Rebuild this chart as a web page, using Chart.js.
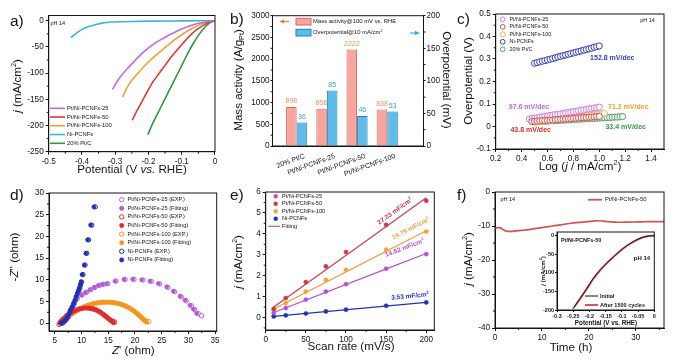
<!DOCTYPE html>
<html><head><meta charset="utf-8"><title>Pt/Ni-PCNFs HER</title>
<script src="https://cdn.jsdelivr.net/npm/chart.js@4.4.1/dist/chart.umd.min.js"></script>
<style>
html,body{margin:0;padding:0;background:#fff;}
body{width:683px;height:359px;position:relative;overflow:hidden;}
canvas{position:absolute;left:0;top:0;}
</style></head><body>
<canvas id="ca" width="683" height="359"></canvas>
<canvas id="cb" width="683" height="359"></canvas>
<canvas id="cc" width="683" height="359"></canvas>
<canvas id="cd" width="683" height="359"></canvas>
<canvas id="ce" width="683" height="359"></canvas>
<canvas id="cf" width="683" height="359"></canvas>
<canvas id="cg" width="683" height="359"></canvas>
<script>
// ---------------- DATA ----------------
// (a) LSV curves
const aNames = ['Pt/Ni-PCNFs-25','Pt/Ni-PCNFs-50','Pt/Ni-PCNFs-100','Ni-PCNFs','20% Pt/C'];
const aPot25 = [-0.308,-0.295,-0.281,-0.26,-0.24,-0.215,-0.19,-0.16,-0.13,-0.1,-0.07,-0.045,-0.025,-0.01,0];
const aJ25 = [-131,-117,-104,-89,-75.6,-60,-47,-35,-24.8,-15.8,-8.8,-4.3,-1.8,-0.5,0];
const aPot50 = [-0.249,-0.235,-0.22,-0.205,-0.19,-0.17,-0.15,-0.13,-0.11,-0.09,-0.07,-0.05,-0.035,-0.02,-0.008,0];
const aJ50 = [-190,-172,-155,-137,-120,-102,-85,-68,-53,-38.5,-25,-14.5,-8.8,-3.5,-0.8,0];
const aPot100 = [-0.278,-0.265,-0.25,-0.23,-0.21,-0.185,-0.16,-0.135,-0.11,-0.085,-0.06,-0.04,-0.02,-0.008,0];
const aJ100 = [-145.6,-128,-113.7,-99,-85,-70,-56.5,-43,-31,-20.5,-12,-6,-2,-0.4,0];
const aPotNi = [-0.433,-0.415,-0.40,-0.38,-0.36,-0.34,-0.31,-0.28,-0.2,-0.1,0];
const aJNi = [-32,-23,-16.5,-11,-7.6,-4.5,-2.5,-1.8,-0.8,-0.3,0];
const aPotPtC = [-0.202,-0.19,-0.17,-0.155,-0.14,-0.125,-0.11,-0.095,-0.08,-0.065,-0.05,-0.037,-0.025,-0.012,0];
const aJPtC = [-217.6,-200,-174,-155,-136,-117,-98,-79,-60,-43,-28,-17,-8.8,-2.5,0];
const aXTicks = [-0.5,-0.4,-0.3,-0.2,-0.1,0];
const aXTickLabels = ['-0.5','-0.4','-0.3','-0.2','-0.1','0'];
const aYTicks = [-250,-200,-150,-100,-50,0];
const aYTickLabels = ['-250','-200','-150','-100','-50','0'];
const aMinorX = [-0.45,-0.35,-0.25,-0.15,-0.05];
const aMinorY = [-225,-175,-125,-75,-25];

// (b) bars
const bCats = ['20% Pt/C','Pt/Ni-PCNFs-25','Pt/Ni-PCNFs-50','Pt/Ni-PCNFs-100'];
const bPos = [1,2,3,4];
const bMass = [898,856,2222,838];
const bEta = [36,85,46,53];
const bSeries = ['Mass activity@100 mV vs. RHE','Overpotential@10 mA/cm'];
const bYTicks = [0,500,1000,1500,2000,2500,3000];
const bYTickLabels = ['0','500','1000','1500','2000','2500','3000'];
const bY2Ticks = [0,50,100,150,200];
const bY2TickLabels = ['0','50','100','150','200'];
const bMinorY = [250,750,1250,1750,2250,2750];
const bMinorY2 = [25,75,125,175];

// (c) Tafel
const cNames = ['Pt/Ni-PCNFs-25','Pt/Ni-PCNFs-50','Pt/Ni-PCNFs-100','Ni-PCNFs','20% Pt/C'];
const cSlopes = ['97.6 mV/dec','43.8 mV/dec','71.2 mV/dec','152.8 mV/dec','33.4 mV/dec'];
const cX25 = [0.46,0.48,0.50,0.52,0.54,0.56,0.58,0.60,0.62,0.64,0.66,0.68,0.70,0.72,0.74,0.76,0.78,0.80,0.82,0.84,0.86,0.88,0.90,0.92,0.94,0.96,0.98,1.00];
const cY25 = [0.033,0.035,0.037,0.039,0.041,0.043,0.045,0.047,0.049,0.051,0.053,0.054,0.056,0.058,0.060,0.062,0.064,0.066,0.068,0.070,0.072,0.074,0.076,0.078,0.080,0.082,0.084,0.086];
const cX50 = [0.48,0.50,0.52,0.54,0.56,0.58,0.60,0.62,0.64,0.66,0.68,0.70,0.72,0.74,0.76,0.78,0.80,0.82,0.84,0.86,0.88,0.90,0.92,0.94,0.96,0.98,1.00];
const cY50 = [0.022,0.023,0.024,0.025,0.026,0.026,0.027,0.028,0.029,0.030,0.031,0.032,0.033,0.033,0.034,0.035,0.036,0.037,0.038,0.039,0.040,0.040,0.041,0.042,0.043,0.044,0.045];
const cX100 = [0.50,0.52,0.54,0.56,0.58,0.60,0.62,0.64,0.66,0.68,0.70,0.72,0.74,0.76,0.78,0.80,0.82,0.84,0.86,0.88,0.90,0.92,0.94,0.96,0.98,1.00,1.02,1.04];
const cY100 = [0.019,0.020,0.022,0.023,0.025,0.026,0.028,0.029,0.030,0.032,0.033,0.035,0.036,0.038,0.039,0.040,0.042,0.043,0.045,0.046,0.048,0.049,0.050,0.052,0.053,0.055,0.056,0.058];
const cXNi = [0.50,0.52,0.54,0.56,0.58,0.60,0.62,0.64,0.66,0.68,0.70,0.72,0.74,0.76,0.78,0.80,0.82,0.84,0.86,0.88,0.90,0.92,0.94,0.96,0.98,1.00];
const cYNi = [0.281,0.284,0.287,0.290,0.293,0.296,0.299,0.302,0.305,0.309,0.312,0.315,0.318,0.321,0.324,0.327,0.330,0.333,0.336,0.339,0.342,0.345,0.348,0.352,0.355,0.358];
const cXPtC = [0.56,0.58,0.60,0.62,0.64,0.66,0.68,0.70,0.72,0.74,0.76,0.78,0.80,0.82,0.84,0.86,0.88,0.90,0.92,0.94,0.96,0.98,1.00,1.02,1.04,1.06,1.08,1.10,1.12,1.14,1.16,1.18];
const cYPtC = [0.023,0.024,0.024,0.025,0.026,0.026,0.027,0.028,0.028,0.029,0.030,0.030,0.031,0.032,0.032,0.033,0.034,0.034,0.035,0.036,0.036,0.037,0.038,0.038,0.039,0.040,0.040,0.041,0.042,0.042,0.043,0.044];
const cXTicks = [0.2,0.4,0.6,0.8,1.0,1.2,1.4];
const cXTickLabels = ['0.2','0.4','0.6','0.8','1.0','1.2','1.4'];
const cYTicks = [-0.1,0,0.1,0.2,0.3,0.4,0.5];
const cYTickLabels = ['-0.1','0','0.1','0.2','0.3','0.4','0.5'];
const cMinorX = [0.3,0.5,0.7,0.9,1.1,1.3];
const cMinorY = [-0.05,0.05,0.15,0.25,0.35,0.45];

// (d) Nyquist
const dNames = ['Pt/Ni-PCNFs-25 (EXP.)','Pt/Ni-PCNFs-25 (Fitting)','Pt/Ni-PCNFs-50 (EXP.)','Pt/Ni-PCNFs-50 (Fitting)','Pt/Ni-PCNFs-100 (EXP.)','Pt/Ni-PCNFs-100 (Fitting)','Ni-PCNFs (EXP.)','Ni-PCNFs (Fitting)'];
const dExpX25 = [6.3,6.7,7.3,7.9,8.5,9.2,10.1,10.9,11.7,12.5,13.3,14.05,14.9,16.45,18.15,19.8,21.5,23.05,24.6,26.15,27.4,28.65,29.6,30.55,31.2,31.85,32.45];
const dExpY25 = [0,0.8,1.85,2.95,4.35,5.7,6.5,7.1,7.7,8.25,8.7,8.95,9.1,9.7,10.05,10.1,9.95,9.6,9.05,8.25,7.25,6.1,5.15,4.0,3.1,2.2,1.7];
const dFitX25 = [6.2,6.6,7.2,7.8,8.4,9.06,10.0,10.75,11.56,12.37,13.12,13.87,14.69,16.25,17.94,19.56,21.25,22.81,24.37,25.94,27.19,28.44,29.37,30.31,30.94,31.56];
const dFitY25 = [0,0.8,1.8,2.9,4.3,5.69,6.46,7.08,7.69,8.23,8.69,8.92,9.08,9.69,10.08,10.15,10.0,9.69,9.15,8.38,7.38,6.23,5.3,4.15,3.23,2.23];
const dExpX50 = [5.8,6.0,6.3,6.7,7.1,7.6,8.1,8.6,9.1,9.6,10.1,10.6,11.1,11.6,12.1,12.6,13.1,13.6,14.1,14.5,14.9,15.3,15.7,15.95,16.2];
const dExpY50 = [-0.3,0.2,0.65,1.1,1.55,2.0,2.4,2.75,3.05,3.28,3.43,3.5,3.5,3.44,3.3,3.1,2.8,2.42,1.98,1.58,1.18,0.78,0.48,0.28,0.25];
const dFitX50 = [5.9,6.1,6.4,6.8,7.2,7.7,8.2,8.7,9.2,9.7,10.2,10.7,11.2,11.7,12.2,12.7,13.2,13.7,14.2,14.6,15.0,15.4,15.7,15.9,16.0];
const dFitY50 = [0,0.3,0.7,1.15,1.6,2.05,2.45,2.8,3.1,3.3,3.45,3.52,3.52,3.45,3.3,3.08,2.78,2.4,1.95,1.55,1.15,0.75,0.45,0.25,0.1];
const dExpX100 = [6.4,6.7,7.1,7.6,8.1,8.7,9.3,9.9,10.5,11.1,11.7,12.3,12.9,13.5,14.1,14.7,15.3,15.9,16.5,17.1,17.7,18.3,18.9,19.5,20.0,20.5,21.0,21.4,21.8,22.2,22.6];
const dExpY100 = [0,0.5,1.0,1.55,2.05,2.55,3.0,3.4,3.75,4.05,4.3,4.5,4.65,4.75,4.82,4.85,4.83,4.76,4.64,4.47,4.23,3.93,3.56,3.1,2.65,2.15,1.6,1.12,0.7,0.4,0.35];
const dFitX100 = [6.3,6.6,7.0,7.5,8.0,8.6,9.2,9.8,10.4,11.0,11.6,12.2,12.8,13.4,14.0,14.6,15.2,15.8,16.4,17.0,17.6,18.2,18.8,19.4,19.9,20.4,20.9,21.3,21.7,22.0,22.2];
const dFitY100 = [0,0.5,1.0,1.55,2.05,2.55,3.0,3.4,3.75,4.05,4.3,4.5,4.65,4.75,4.82,4.85,4.83,4.76,4.64,4.47,4.23,3.93,3.56,3.1,2.65,2.15,1.6,1.12,0.7,0.4,0.2];
const dExpXNi = [6.3,6.5,6.75,7.0,7.25,7.5,7.7,7.9,8.1,8.35,8.6,8.85,9.05,9.3,9.5,9.66,9.82,10.0,10.25,10.65,10.95,11.3,11.9,12.55];
const dExpYNi = [0,0.15,0.4,0.7,1.05,1.45,2.0,2.6,3.2,3.8,4.55,5.3,6.1,6.85,7.5,8.1,8.8,9.5,11.2,13.4,16.1,19.2,22.6,26.8];
const dFitXNi = [6.2,6.4,6.65,6.9,7.15,7.4,7.6,7.8,8.0,8.25,8.5,8.75,8.95,9.19,9.4,9.56,9.72,9.88,10.1,10.5,10.8,11.13,11.69,12.31];
const dFitYNi = [0,0.15,0.4,0.7,1.05,1.45,2.0,2.6,3.2,3.8,4.55,5.3,6.1,6.85,7.5,8.1,8.8,9.5,11.2,13.4,16.1,19.2,22.6,26.8];
const dXTicks = [5,10,15,20,25,30,35];
const dXTickLabels = ['5','10','15','20','25','30','35'];
const dYTicks = [0,5,10,15,20,25,30];
const dYTickLabels = ['0','5','10','15','20','25','30'];
const dMinorX = [7.5,12.5,17.5,22.5,27.5,32.5];
const dMinorY = [2.5,7.5,12.5,17.5,22.5,27.5];

// (e) double-layer capacitance
const eNames = ['Pt/Ni-PCNFs-25','Pt/Ni-PCNFs-50','Pt/Ni-PCNFs-100','Ni-PCNFs','Fitting'];
const eCdl = ['14.82 mF/cm','27.23 mF/cm','19.79 mF/cm','3.53 mF/cm'];
const eRate = [10,25,50,75,100,150,200];
const e25 = [0.21,0.45,0.85,1.24,1.59,2.33,3.03];
const e50 = [0.41,0.93,1.69,2.44,3.13,4.43,5.58];
const e100 = [0.35,0.69,1.24,1.80,2.28,3.24,4.11];
const eNi = [0.05,0.10,0.19,0.29,0.37,0.56,0.72];
const eFitRate = [10,200];
const eFit25 = [0.24,3.06];
const eFit50 = [0.5,5.72];
const eFit100 = [0.4,4.15];
const eFitNi = [0.05,0.72];
const eXTicks = [0,50,100,150,200];
const eXTickLabels = ['0','50','100','150','200'];
const eYTicks = [0,1,2,3,4,5,6];
const eYTickLabels = ['0','1','2','3','4','5','6'];
const eMinorX = [25,75,125,175];
const eMinorY = [-0.5,0.5,1.5,2.5,3.5,4.5,5.5];

// (f) stability
const fNames = ['Pt/Ni-PCNFs-50'];
const fTime = [0,0.8,1.4,1.9,2.4,3.2,4.5,5.6,7.5,9.2,11,12.7,14.5,16.2,18,19.8,21,21.9,23,24,25.5,26.8,28.5,30.3,32,34,36];
const fJ = [-10.6,-10.5,-10.7,-11.2,-11.5,-11.6,-11.45,-11.3,-11.0,-10.6,-10.25,-9.9,-9.55,-9.2,-8.95,-8.7,-8.55,-8.45,-8.55,-8.7,-8.85,-8.9,-8.85,-8.8,-8.75,-8.7,-8.7];
const fXTicks = [0,10,20,30];
const fXTickLabels = ['0','10','20','30'];
const fYTicks = [-40,-30,-20,-10,0];
const fYTickLabels = ['-40','-30','-20','-10','0'];
const fMinorX = [5,15,25,35];
const fMinorY = [-35,-25,-15,-5];
// inset
const fInNames = ['Initial','After 1500 cycles'];
const fInPotInit = [-0.247,-0.23,-0.208,-0.19,-0.167,-0.145,-0.126,-0.105,-0.085,-0.065,-0.044,-0.025,-0.01,0];
const fInJInit = [-192,-170,-141.6,-117,-92,-72,-56.5,-40,-27,-16,-7,-2,-0.3,0];
const fInPotAfter = [-0.251,-0.23,-0.208,-0.19,-0.167,-0.145,-0.126,-0.105,-0.085,-0.065,-0.044,-0.025,-0.01,0];
const fInJAfter = [-197,-171.5,-143,-118.5,-93,-73,-57.5,-41,-27.8,-16.6,-7.5,-2.3,-0.4,0];
const fInXTicks = [-0.3,-0.25,-0.2,-0.15,-0.1,-0.05,0];
const fInXTickLabels = ['-0.3','-0.25','-0.2','-0.15','-0.1','-0.05','0'];
const fInYTicks = [-200,-150,-100,-50,0];
const fInYTickLabels = ['-200','-150','-100','-50','0'];

// ---------------- LAYOUT / STYLE ----------------
const W = 683, H = 359;
function hasFont(name) {
  const c = document.createElement('canvas').getContext('2d');
  const s = 'Pt/Ni-PCNFs-25 mWwil 0123';
  c.font = '20px monospace'; const w0 = c.measureText(s).width;
  c.font = "20px '" + name + "', monospace"; return Math.abs(c.measureText(s).width - w0) > 0.5;
}
const NARROW = hasFont('Liberation Sans Narrow');
const REG = "'Liberation Sans', Arial, Helvetica, sans-serif";
const FONT = NARROW ? "'Liberation Sans Narrow', " + REG : REG;
const Z = NARROW ? 1.17 : 1;
const INK = '#141414';
const PA = {l: 48.7, t: 15.5, r: 215, b: 151.7};
const PB = {l: 272.5, t: 15.7, r: 423.5, b: 146};
const PC = {l: 495.7, t: 14, r: 664, b: 149};
const PD = {l: 49, t: 193, r: 216.7, b: 331};
const PE = {l: 265.7, t: 192, r: 434.3, b: 330};
const PF = {l: 495, t: 192, r: 664, b: 328};
const PI = {l: 557, t: 232, r: 654.3, b: 310};

Chart.defaults.font.family = FONT;
Chart.defaults.color = INK;
Chart.defaults.animation = false;
Chart.defaults.responsive = false;
Chart.defaults.maintainAspectRatio = false;
Chart.defaults.events = [];
Chart.defaults.plugins.legend.display = false;
Chart.defaults.plugins.tooltip.enabled = false;

function pts(xs, ys) { return xs.map((x, i) => ({x: x, y: ys[i]})); }
function pad(p, lw, rw, bh) { return {left: p.l - lw, top: p.t, right: W - p.r - rw, bottom: H - p.b - bh}; }
function axis(pos, min, max, vals, labels, size, o) {
  o = o || {};
  const horiz = pos === 'bottom';
  return {
    type: 'linear', position: pos, min: min, max: max, offset: false,
    afterBuildTicks: s => { s.ticks = vals.map(v => ({value: v})); },
    afterFit: s => { if (horiz) s.height = size; else s.width = size; },
    grid: {display: !o.noTicks, drawOnChartArea: false, drawTicks: true, tickLength: o.tl || 3, color: INK, lineWidth: 1, offset: false},
    border: {display: true, color: INK, width: 1},
    ticks: Object.assign({autoSkip: false, maxRotation: 0, minRotation: 0, padding: o.pad == null ? 2 : o.pad, color: INK,
      font: {size: (o.fs || 8.2) * Z, weight: o.bold ? 'bold' : 'normal'}, callback: (v, i) => labels[i]}, o.ticks || {})
  };
}
function rich(ctx, x, y, segs, size, o) {
  o = o || {};
  if (!o.noZ) size *= Z;
  const fam = o.fam || FONT;
  ctx.save();
  ctx.translate(x, y);
  if (o.rot) ctx.rotate(o.rot);
  const fnt = st => {
    const small = st.indexOf('^') >= 0 || st.indexOf('_') >= 0;
    return (st.indexOf('I') >= 0 ? 'italic ' : '') + ((o.bold || st.indexOf('B') >= 0) ? 'bold ' : '') + (small ? size * 0.62 : size) + 'px ' + fam;
  };
  let total = 0; const ws = [];
  segs.forEach(sg => { ctx.font = fnt(sg[1] || ''); const w = ctx.measureText(sg[0]).width; ws.push(w); total += w; });
  let cx = o.align === 'left' ? 0 : o.align === 'right' ? -total : -total / 2;
  ctx.textAlign = 'left'; ctx.textBaseline = 'middle'; ctx.fillStyle = o.color || INK;
  segs.forEach((sg, k) => {
    const st = sg[1] || '';
    ctx.font = fnt(st);
    const dy = st.indexOf('^') >= 0 ? -size * 0.33 : st.indexOf('_') >= 0 ? size * 0.28 : 0;
    ctx.fillText(sg[0], cx, dy); cx += ws[k];
  });
  ctx.restore();
}
function tx(ctx, s, x, y, size, color, align, bold) { rich(ctx, x, y, [[s]], size, {color: color, align: align, bold: bold}); }
function letter(ctx, s, x, y) { rich(ctx, x, y, [[s]], 15.5, {align: 'left', noZ: true, fam: REG}); }
function hline(ctx, x1, x2, y, c, w) { ctx.save(); ctx.strokeStyle = c; ctx.lineWidth = w; ctx.beginPath(); ctx.moveTo(x1, y); ctx.lineTo(x2, y); ctx.stroke(); ctx.restore(); }
function dot(ctx, x, y, r, stroke, fill, lw) { ctx.save(); ctx.beginPath(); ctx.arc(x, y, r, 0, Math.PI * 2); ctx.fillStyle = fill; ctx.fill(); ctx.strokeStyle = stroke; ctx.lineWidth = lw; ctx.stroke(); ctx.restore(); }
function arrow(ctx, x1, x2, y, c) {
  ctx.save(); ctx.strokeStyle = c; ctx.fillStyle = c; ctx.lineWidth = 1.2;
  ctx.beginPath(); ctx.moveTo(x1, y); ctx.lineTo(x2, y); ctx.stroke();
  const d = Math.sign(x2 - x1);
  ctx.beginPath(); ctx.moveTo(x2 + d, y); ctx.lineTo(x2 - d * 3.5, y - 2.2); ctx.lineTo(x2 - d * 3.5, y + 2.2); ctx.closePath(); ctx.fill();
  ctx.restore();
}
function drawFrame(ch, fr) {
  const ctx = ch.ctx, a = ch.chartArea, s = ch.scales;
  ctx.save(); ctx.strokeStyle = INK; ctx.lineWidth = 1;
  ctx.strokeRect(a.left, a.top, a.right - a.left, a.bottom - a.top);
  const L = fr.len || 2;
  ctx.beginPath();
  (fr.x || []).forEach(v => { const p = s.x.getPixelForValue(v); ctx.moveTo(p, a.bottom); ctx.lineTo(p, a.bottom + L); });
  (fr.y || []).forEach(v => { const p = s.y.getPixelForValue(v); ctx.moveTo(a.left, p); ctx.lineTo(a.left - L, p); });
  (fr.y2 || []).forEach(v => { const p = s.y2.getPixelForValue(v); ctx.moveTo(a.right, p); ctx.lineTo(a.right + L, p); });
  ctx.stroke(); ctx.restore();
}
function deco(id, fr, draw, bg) {
  return {
    id: id,
    beforeDraw(ch) { if (bg) { const a = ch.chartArea; ch.ctx.save(); ch.ctx.fillStyle = '#fff'; ch.ctx.fillRect(a.left, a.top, a.right - a.left, a.bottom - a.top); ch.ctx.restore(); } },
    afterDatasetsDraw(ch) { drawFrame(ch, fr); },
    afterDraw(ch) { const c = ch.ctx; c.save(); draw(c, ch); c.restore(); }
  };
}
function lineDs(xs, ys, c, w, order) { return {data: pts(xs, ys), showLine: true, pointRadius: 0, borderColor: c, borderWidth: w || 1.6, cubicInterpolationMode: 'monotone', fill: false, order: order || 0}; }
function openDs(xs, ys, c, r, order) { return {data: pts(xs, ys), showLine: false, pointRadius: r, pointBackgroundColor: '#fff', pointBorderColor: c, pointBorderWidth: 1, order: order}; }
function fillDs(xs, ys, c, r, order) { return {data: pts(xs, ys), showLine: false, pointRadius: r, pointBackgroundColor: c, pointBorderColor: c, pointBorderWidth: 0.5, order: order}; }
const J_TITLE = [['j', 'I'], [' (mA/cm'], ['2', '^'], [')']];
const TS = 11.6; // axis title size (regular-font equivalent)

// ---------------- (a) ----------------
const colA = ['#c56ad9', '#e0383a', '#f0a23a', '#3db4dc', '#2f9a3f'];
new Chart(document.getElementById('ca'), {
  type: 'scatter',
  data: {datasets: [
    lineDs(aPot25, aJ25, colA[0], 1.6, 0),
    lineDs(aPot50, aJ50, colA[1], 1.6, 1),
    lineDs(aPot100, aJ100, colA[2], 1.6, 2),
    lineDs(aPotNi, aJNi, colA[3], 1.6, 3),
    lineDs(aPotPtC, aJPtC, colA[4], 1.6, 4)
  ]},
  options: {
    layout: {padding: pad(PA, 30, 0, 20)},
    scales: {
      x: axis('bottom', -0.5, 0, aXTicks, aXTickLabels, 20),
      y: axis('left', -250, 10, aYTicks, aYTickLabels, 30)
    }
  },
  plugins: [deco('da', {x: aMinorX, y: aMinorY}, ctx => {
    letter(ctx, 'a)', 10, 21.5);
    rich(ctx, 17.5, 86, J_TITLE, TS, {rot: -Math.PI / 2});
    rich(ctx, 132, 170, [['Potential (V '], ['vs.', 'I'], [' RHE)']], TS);
    tx(ctx, 'pH 14', 50.5, 23.5, 5.5, INK, 'left');
    const ly = [108.3, 117.05, 125.8, 134.55, 143.3];
    aNames.forEach((n, i) => { hline(ctx, 50, 65, ly[i], colA[i], 1.6); tx(ctx, n, 67, ly[i], 5.8, INK, 'left'); });
  })]
});

// ---------------- (b) ----------------
const pinkF = '#f6a69d', pinkB = '#e0665c', blueF = '#5cbdea', blueB = '#2080c6';
new Chart(document.getElementById('cb'), {
  type: 'bar',
  data: {datasets: [
    {label: bSeries[0], data: pts(bPos, bMass), yAxisID: 'y', backgroundColor: pinkF, borderColor: pinkB, borderWidth: 1, categoryPercentage: 0.7, barPercentage: 1},
    {label: bSeries[1], data: pts(bPos, bEta), yAxisID: 'y2', backgroundColor: blueF, borderColor: blueB, borderWidth: 1, categoryPercentage: 0.7, barPercentage: 1}
  ]},
  options: {
    layout: {padding: pad(PB, 30, 20, 30)},
    scales: {
      x: axis('bottom', 0.2, 5.2, bPos, bCats, 30, {noTicks: true, fs: 7, ticks: {minRotation: 20, maxRotation: 20, labelOffset: 8, padding: 3}}),
      y: axis('left', 0, 3000, bYTicks, bYTickLabels, 30, {tl: 2, pad: 1}),
      y2: axis('right', 0, 200, bY2Ticks, bY2TickLabels, 20, {tl: 2, pad: 1})
    }
  },
  plugins: [deco('db', {y: bMinorY, y2: bMinorY2}, (ctx, ch) => {
    letter(ctx, 'b)', 230, 20);
    rich(ctx, 238.5, 80, [['Mass activity (A/g'], ['Pt', '_'], [')']], TS, {rot: -Math.PI / 2});
    rich(ctx, 446, 80, [['Overpotential (mV)']], TS, {rot: Math.PI / 2});
    ctx.fillStyle = pinkF; ctx.strokeStyle = pinkB; ctx.lineWidth = 1;
    ctx.fillRect(296, 18.3, 15, 6.7); ctx.strokeRect(296, 18.3, 15, 6.7);
    ctx.fillStyle = blueF; ctx.strokeStyle = blueB;
    ctx.fillRect(296, 29.3, 15, 6.7); ctx.strokeRect(296, 29.3, 15, 6.7);
    tx(ctx, bSeries[0], 313, 21.7, 5.9, INK, 'left');
    rich(ctx, 313, 32.7, [[bSeries[1]], ['2', '^']], 5.9, {align: 'left'});
    arrow(ctx, 289, 280.5, 21.5, '#e9843e');
    arrow(ctx, 410, 418.5, 33, '#3aa6dc');
    ch.getDatasetMeta(0).data.forEach((el, i) => tx(ctx, String(bMass[i]), el.x, el.y - 5.5, 7, '#e3965e', 'center'));
    ch.getDatasetMeta(1).data.forEach((el, i) => tx(ctx, String(bEta[i]), el.x, el.y - 5.5, 7, '#3b9fd8', 'center'));
  })]
});

// ---------------- (c) ----------------
const colC = ['#c77ee0', '#d94a4a', '#e6b44a', '#3540c0', '#4aa55a'];
const colCtxt = ['#c066e0', '#d42a2a', '#e0a030', '#3540c0', '#35983f'];
new Chart(document.getElementById('cc'), {
  type: 'scatter',
  data: {datasets: [
    openDs(cXNi, cYNi, colC[3], 3.1, 4),
    openDs(cXPtC, cYPtC, colC[4], 3.1, 3),
    openDs(cX100, cY100, colC[2], 3.1, 2),
    openDs(cX25, cY25, colC[0], 3.1, 1),
    openDs(cX50, cY50, colC[1], 3.1, 0)
  ]},
  options: {
    layout: {padding: pad(PC, 30, 0, 20)},
    scales: {
      x: axis('bottom', 0.2, 1.5, cXTicks, cXTickLabels, 20),
      y: axis('left', -0.1, 0.5, cYTicks, cYTickLabels, 30)
    }
  },
  plugins: [deco('dc', {x: cMinorX, y: cMinorY}, ctx => {
    letter(ctx, 'c)', 457, 19.5);
    rich(ctx, 468.5, 81, [['Overpotential (V)']], TS, {rot: -Math.PI / 2});
    rich(ctx, 580, 167, [['Log ('], ['j', 'I'], [' / mA/cm'], ['2', '^'], [')']], TS);
    tx(ctx, 'pH 14', 647.5, 20.7, 5.5, INK, 'center');
    cNames.forEach((n, i) => { const y = 19.3 + 7.5 * i; dot(ctx, 502.7, y, 2.4, colC[i], '#fff', 1); tx(ctx, n, 509.5, y, 5.4, INK, 'left'); });
    const pos = [[529, 107.3], [530.7, 130], [628.3, 106.7], [612.3, 58.3], [625.7, 127.3]];
    cSlopes.forEach((s, i) => tx(ctx, s, pos[i][0], pos[i][1], 7, colCtxt[i], 'center', true));
  })]
});

// ---------------- (d) ----------------
const colD = ['#b65ad8', '#e02a2a', '#f5951e', '#2030b5'];
new Chart(document.getElementById('cd'), {
  type: 'scatter',
  data: {datasets: [
    fillDs(dFitXNi, dFitYNi, colD[3], 2.1, 0),
    fillDs(dFitX50, dFitY50, colD[1], 2.1, 1),
    fillDs(dFitX100, dFitY100, colD[2], 2.1, 2),
    fillDs(dFitX25, dFitY25, colD[0], 2.1, 3),
    openDs(dExpXNi, dExpYNi, colD[3], 2.2, 4),
    openDs(dExpX50, dExpY50, colD[1], 2.2, 5),
    openDs(dExpX100, dExpY100, colD[2], 2.2, 6),
    openDs(dExpX25, dExpY25, colD[0], 2.2, 7)
  ]},
  options: {
    layout: {padding: pad(PD, 30, 0, 20)},
    scales: {
      x: axis('bottom', 3.9, 35.3, dXTicks, dXTickLabels, 20),
      y: axis('left', -1.8, 30, dYTicks, dYTickLabels, 30)
    }
  },
  plugins: [deco('dd', {x: dMinorX, y: dMinorY}, ctx => {
    letter(ctx, 'd)', 10, 195.5);
    rich(ctx, 15, 257, [['-'], ['Z', 'I'], ["'' (ohm)"]], TS, {rot: -Math.PI / 2});
    rich(ctx, 133.3, 351, [['Z', 'I'], ["' (ohm)"]], TS);
    dNames.forEach((n, i) => {
      const y = 199.7 + 8.6 * i, c = colD[Math.floor(i / 2)];
      if (i % 2 === 0) dot(ctx, 121.7, y, 2.2, c, '#fff', 1); else dot(ctx, 121.7, y, 2.2, c, c, 0.5);
      tx(ctx, n, 127.5, y, 5.6, INK, 'left');
    });
  })]
});

// ---------------- (e) ----------------
const colE = ['#b452d6', '#d93347', '#f5a042', '#2233b5'];
const eFits = [eFit25, eFit50, eFit100, eFitNi];
new Chart(document.getElementById('ce'), {
  type: 'scatter',
  data: {datasets: [
    fillDs(eRate, e25, colE[0], 2.1, 0),
    fillDs(eRate, e50, colE[1], 2.1, 0),
    fillDs(eRate, e100, colE[2], 2.1, 0),
    fillDs(eRate, eNi, colE[3], 2.1, 0),
    lineDs(eFitRate, eFit25, colE[0], 1.2, 5),
    lineDs(eFitRate, eFit50, '#c93d58', 1.2, 5),
    lineDs(eFitRate, eFit100, colE[2], 1.2, 5),
    lineDs(eFitRate, eFitNi, colE[3], 1.2, 5)
  ]},
  options: {
    layout: {padding: pad(PE, 30, 0, 20)},
    scales: {
      x: axis('bottom', 0, 210, eXTicks, eXTickLabels, 20),
      y: axis('left', -0.6, 6, eYTicks, eYTickLabels, 30)
    }
  },
  plugins: [deco('de', {x: eMinorX, y: eMinorY}, (ctx, ch) => {
    letter(ctx, 'e)', 230, 195.5);
    rich(ctx, 238.5, 262, J_TITLE, TS, {rot: -Math.PI / 2});
    rich(ctx, 351, 346.5, [['Scan rate (mV/s)']], TS);
    const ly = [196.3, 203.8, 211.3, 218.8, 226.3];
    for (let i = 0; i < 4; i++) { dot(ctx, 275.7, ly[i], 2, colE[i], colE[i], 0.5); tx(ctx, eNames[i], 282, ly[i], 5.6, INK, 'left'); }
    hline(ctx, 268.3, 280, ly[4], colE[0], 1.2); tx(ctx, eNames[4], 282, ly[4], 5.6, INK, 'left');
    const sx = ch.scales.x, sy = ch.scales.y;
    const ang = ys => Math.atan2(sy.getPixelForValue(ys[1]) - sy.getPixelForValue(ys[0]), sx.getPixelForValue(eFitRate[1]) - sx.getPixelForValue(eFitRate[0]));
    const pos = [[404.7, 248], [395, 211.3], [410.7, 228.7], [410, 296.3]];
    const tc = ['#b452d6', '#d0304a', '#f0a040', '#2233b5'];
    eCdl.forEach((s, i) => rich(ctx, pos[i][0], pos[i][1], [[s], ['2', '^']], 6.5, {rot: ang(eFits[i]), color: tc[i], bold: true}));
  })]
});

// ---------------- (f) ----------------
const colF = '#d9514f';
new Chart(document.getElementById('cf'), {
  type: 'scatter',
  data: {datasets: [lineDs(fTime, fJ, colF, 1.7, 0)]},
  options: {
    layout: {padding: pad(PF, 30, 0, 20)},
    scales: {
      x: axis('bottom', 0, 36, fXTicks, fXTickLabels, 20),
      y: axis('left', -40, 0, fYTicks, fYTickLabels, 30)
    }
  },
  plugins: [deco('df', {x: fMinorX, y: fMinorY}, ctx => {
    letter(ctx, 'f)', 457, 195.5);
    rich(ctx, 468.5, 259, J_TITLE, TS, {rot: -Math.PI / 2});
    rich(ctx, 571, 348, [['Time (h)']], TS);
    tx(ctx, 'pH 14', 500.5, 199, 5.5, INK, 'left');
    hline(ctx, 588, 602, 199.7, colF, 1.8);
    tx(ctx, fNames[0], 605, 199.7, 5.8, INK, 'left');
  })]
});

// inset
new Chart(document.getElementById('cg'), {
  type: 'scatter',
  data: {datasets: [
    lineDs(fInPotInit, fInJInit, '#111111', 0.9, 0),
    lineDs(fInPotAfter, fInJAfter, '#dd5555', 2, 1)
  ]},
  options: {
    layout: {padding: pad(PI, 18, 0, 10)},
    scales: {
      x: axis('bottom', -0.3, 0, fInXTicks, fInXTickLabels, 10, {tl: 2, pad: 1, fs: 5.5, bold: true}),
      y: axis('left', -200, 10, fInYTicks, fInYTickLabels, 18, {tl: 2, pad: 1, fs: 5.5, bold: true})
    }
  },
  plugins: [deco('dg', {}, ctx => {
    tx(ctx, 'Pt/Ni-PCNFs-50', 561, 240, 5.5, INK, 'left', true);
    tx(ctx, 'pH 14', 642, 258.3, 6, INK, 'center', true);
    hline(ctx, 585, 598, 305, '#dd5555', 2);
    hline(ctx, 585, 598, 296, '#111111', 1);
    tx(ctx, fInNames[0], 600, 296, 5.5, INK, 'left', true);
    tx(ctx, fInNames[1], 600, 305, 5.5, INK, 'left', true);
    rich(ctx, 543, 271, J_TITLE, 6, {rot: -Math.PI / 2, bold: true});
    rich(ctx, 606, 323.5, [['Potential (V vs. RHE)']], 6.3, {bold: true});
  }, true)]
});
</script>
</body></html>
